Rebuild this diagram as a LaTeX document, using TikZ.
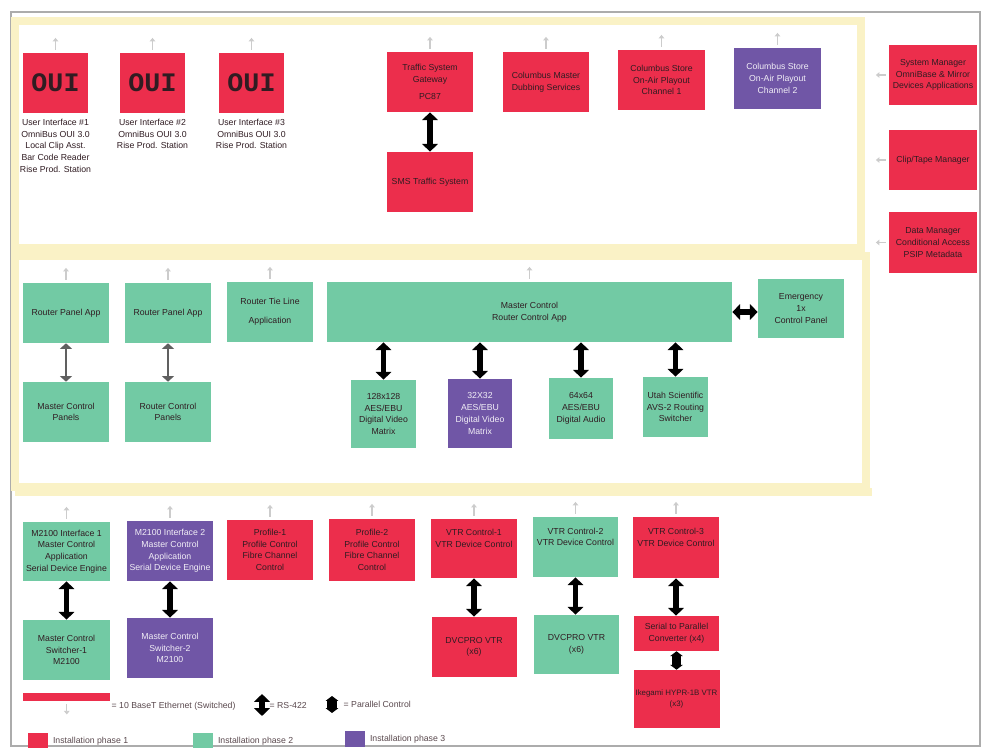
\documentclass[tikz,border=0pt]{standalone}
\usepackage{fontspec}
\setmainfont{Liberation Sans}
\newfontfamily\ouifont{Liberation Mono}
\usetikzlibrary{arrows.meta,positioning}
\definecolor{rosso}{RGB}{236,46,76}
\definecolor{mint}{RGB}{114,202,164}
\definecolor{grape}{RGB}{112,86,166}
\definecolor{band}{RGB}{250,242,198}
\definecolor{ink}{RGB}{48,28,34}
\newcommand{\pxl}{0.025cm}

\tikzset{
  box/.style={inner sep=1pt,align=center,text=ink,font=\fontsize{6.2}{8.3}\selectfont},
  phase1/.style={box,fill=rosso},
  phase2/.style={box,fill=mint},
  phase3/.style={box,fill=grape,text=white!90!grape},
  rs/.style={line width=3.6pt,{Triangle[width=11pt,length=5.6pt]}-{Triangle[width=11pt,length=5.6pt]}},
  rsgray/.style={draw=gray!75!black,line width=1.4pt,{Triangle[width=8.5pt,length=4pt]}-{Triangle[width=8.5pt,length=4pt]}},
  parctl/.style={line width=6.5pt,{Triangle[width=9pt,length=3.5pt]}-{Triangle[width=9pt,length=3.5pt]}},
  drop/.style={draw=gray!40,line width=0.9pt,-{Triangle[width=4pt,length=2.5pt]}},
  bus/.style={draw=band,line width=5pt},
  legend/.style={font=\fontsize{6.2}{8.3}\selectfont,text=ink!80,inner sep=1pt}
}

\begin{document}
\begin{tikzpicture}[x=\pxl,y=-\pxl]
  \useasboundingbox (0,0) rectangle (988,748);
  \fill[white] (0,0) rectangle (988,748);
  % frame and ethernet buses
  \draw[gray!65,line width=1pt] (11,12) rectangle (980,746);
  \draw[bus] (15,21) rectangle (861,248);
  \draw[bus] (15,256) rectangle (866,487);
  \draw[bus] (15,492) -- (872,492);

  % OmniBus user interfaces
  \foreach \n/\x/\t in {
    oui1/55.5/{User Interface \#1\\OmniBus OUI 3.0\\Local Clip Asst.\\Bar Code Reader\\Rise Prod. Station},
    oui2/152.5/{User Interface \#2\\OmniBus OUI 3.0\\Rise Prod. Station},
    oui3/251.5/{User Interface \#3\\OmniBus OUI 3.0\\Rise Prod. Station}}
  {
    \node[phase1,minimum width=65*\pxl,minimum height=60*\pxl,font=\ouifont\bfseries\fontsize{19}{19}\selectfont] (\n) at (\x,83) {OUI};
    \node[box,anchor=north] (\n-txt) at ([yshift=-3pt]\n.south) {\t};
  }

  % all other boxes
  \foreach \n/\x/\y/\w/\h/\s/\t in {
    tsg/430/82/86/60/phase1/{Traffic System\\Gateway\\[4pt]PC87},
    sms/430/182/86/60/phase1/{SMS Traffic System},
    cmds/546/82/86/60/phase1/{Columbus Master\\Dubbing Services},
    cs1/661.5/80/87/60/phase1/{Columbus Store\\On-Air Playout\\Channel 1},
    cs2/777.5/78.5/87/61/phase3/{Columbus Store\\On-Air Playout\\Channel 2},
    sysm/933/75/88/60/phase1/{System Manager\\OmniBase \& Mirror\\Devices Applications},
    clip/933/160/88/60/phase1/{Clip/Tape Manager},
    data/933/242.5/88/61/phase1/{Data Manager\\Conditional Access\\PSIP Metadata},
    rpa1/66/313/86/60/phase2/{Router Panel App},
    rpa2/168/313/86/60/phase2/{Router Panel App},
    rtl/270/312/86/60/phase2/{Router Tie Line\\[5pt]Application},
    mcp/66/412/86/60/phase2/{Master Control\\Panels},
    rcp/168/412/86/60/phase2/{Router Control\\Panels},
    mcrca/529.5/312/405/60/phase2/{Master Control\\Router Control App},
    emg/801/308.5/86/59/phase2/{Emergency\\1x\\Control Panel},
    m128/383.5/414/65/68/phase2/{128x128\\AES/EBU\\Digital Video\\Matrix},
    m32/480/413.5/64/69/phase3/{32X32\\AES/EBU\\Digital Video\\Matrix},
    m64/581/408.5/64/61/phase2/{64x64\\AES/EBU\\Digital Audio},
    utah/675.5/407/65/60/phase2/{Utah Scientific\\AVS-2 Routing\\Switcher},
    if1/66.5/551.5/87/59/phase2/{M2100 Interface 1\\Master Control\\Application\\Serial Device Engine},
    if2/170/551/86/60/phase3/{M2100 Interface 2\\Master Control\\Application\\Serial Device Engine},
    pf1/270/550/86/60/phase1/{Profile-1\\Profile Control\\Fibre Channel\\Control},
    pf2/372/550/86/62/phase1/{Profile-2\\Profile Control\\Fibre Channel\\Control},
    vtr1/474/548.5/86/59/phase1/{VTR Control-1\\VTR Device Control\\[6pt]~},
    vtr2/575.5/547/85/60/phase2/{VTR Control-2\\VTR Device Control\\[6pt]~},
    vtr3/676/547.5/86/61/phase1/{VTR Control-3\\VTR Device Control\\[6pt]~},
    mcs1/66.5/650/87/60/phase2/{Master Control\\Switcher-1\\M2100},
    mcs2/170/648/86/60/phase3/{Master Control\\Switcher-2\\M2100},
    dv1/474/647/85/60/phase1/{DVCPRO VTR\\(x6)},
    dv2/576.5/644.5/85/59/phase2/{DVCPRO VTR\\(x6)},
    s2p/676.5/633.5/85/35/phase1/{Serial to Parallel\\Converter (x4)}}
  {
    \node[style=\s,minimum width=\w*\pxl,minimum height=\h*\pxl] (\n) at (\x,\y) {\t};
  }
  \node[phase1,minimum width=86*\pxl,minimum height=58*\pxl,font=\fontsize{5.6}{8.3}\selectfont] (ike) at (676.5,699) {Ikegami HYPR-1B VTR\\(x3)};

  % ethernet drops
  \foreach \b in {oui1,oui2,oui3,tsg,cmds,cs1,cs2,rpa1,rpa2,rtl,mcrca,if1,if2,pf1,pf2,vtr1,vtr2,vtr3}
    \draw[drop] ([yshift=2pt]\b.north) -- ++(0,-12);
  \foreach \b in {sysm,clip,data}
    \draw[drop] ([xshift=-2pt]\b.west) -- ++(-10,0);

  % RS-422 links
  \foreach \a/\b in {tsg/sms,if1/mcs1,if2/mcs2,vtr1/dv1,vtr2/dv2,vtr3/s2p}
    \draw[rs] (\a.south) -- (\a.south |- \b.north);
  \foreach \b in {m128,m32,m64,utah}
    \draw[rs] (\b.north |- mcrca.south) -- (\b.north);
  \draw[rs] (mcrca.east) -- (mcrca.east -| emg.west);
  \foreach \a/\b in {rpa1/mcp,rpa2/rcp}
    \draw[rsgray] (\a.south) -- (\b.north);
  \draw[parctl] (s2p.south) -- (s2p.south |- ike.north);

  % legend
  \node[fill=rosso,minimum width=87*\pxl,minimum height=8*\pxl,inner sep=0pt,anchor=north west] (eth) at (23,693) {};
  \draw[drop] ([yshift=-2pt]eth.south) -- ++(0,10);
  \node[legend,anchor=west] (eth-txt) at (110,706) {= 10 BaseT Ethernet (Switched)};
  \coordinate (rs-top) at (262,694);
  \coordinate (rs-bot) at (262,716);
  \draw[rs] (rs-top) -- (rs-bot);
  \node[legend,anchor=west] (rs-txt) at (268,705) {= RS-422};
  \coordinate (pc-top) at (332,696);
  \coordinate (pc-bot) at (332,713);
  \draw[parctl] (pc-top) -- (pc-bot);
  \node[legend,anchor=west] (pc-txt) at (342,704) {= Parallel Control};
  \foreach \n/\x/\y/\c/\t in {sw1/28/733/rosso/1,sw2/193/733/mint/2,sw3/345/731/grape/3}
  {
    \node[fill=\c,minimum width=20*\pxl,minimum height=16*\pxl,inner sep=0pt,anchor=north west] (\n) at (\x,\y) {};
    \node[legend,right=2pt of \n] (\n-txt) {Installation phase \t};
  }
\end{tikzpicture}
\end{document}
